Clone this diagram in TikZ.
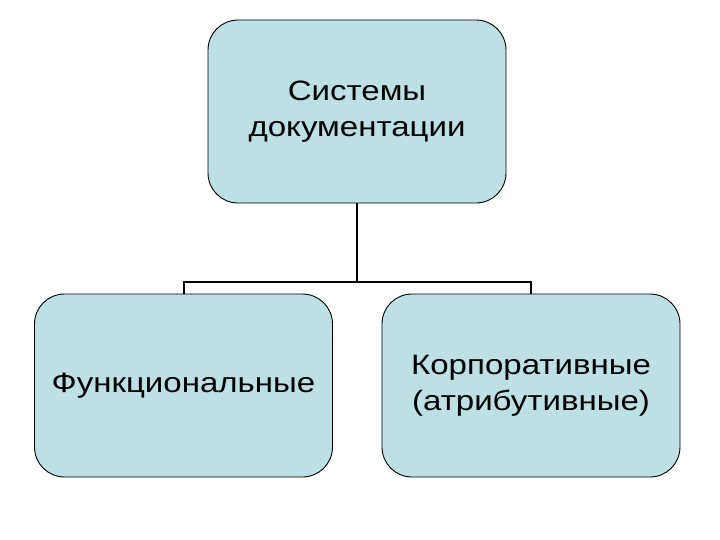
\documentclass[tikz,border=0pt]{standalone}
\usepackage{fontspec}
\setmainfont{Liberation Sans}[FakeStretch=1.18]
\definecolor{boxfill}{RGB}{188,224,227}
\tikzset{
  boxnode/.style={draw=black, line width=0.9pt, fill=boxfill, rounded corners=30pt,
    minimum width=298pt, minimum height=183pt, align=center, inner sep=0pt,
    font=\fontsize{28}{36}\selectfont},
  conn/.style={draw=black, line width=2pt}
}
\begin{document}
\begin{tikzpicture}[x=1pt,y=-1pt]
\useasboundingbox (0,0) rectangle (720,540);
\node[boxnode] (top) at (357,111.5) {Системы\\документации};
\node[boxnode] (left) at (183.5,385.5) {Функциональные};
\node[boxnode] (right) at (531,385.5) {Корпоративные\\(атрибутивные)};
\coordinate (mid) at (357,282);
\draw[conn] (top.south) -- (mid);
\draw[conn] (left.north) -- (left.north |- mid) -- (right.north |- mid) -- (right.north);
\end{tikzpicture}
\end{document}
